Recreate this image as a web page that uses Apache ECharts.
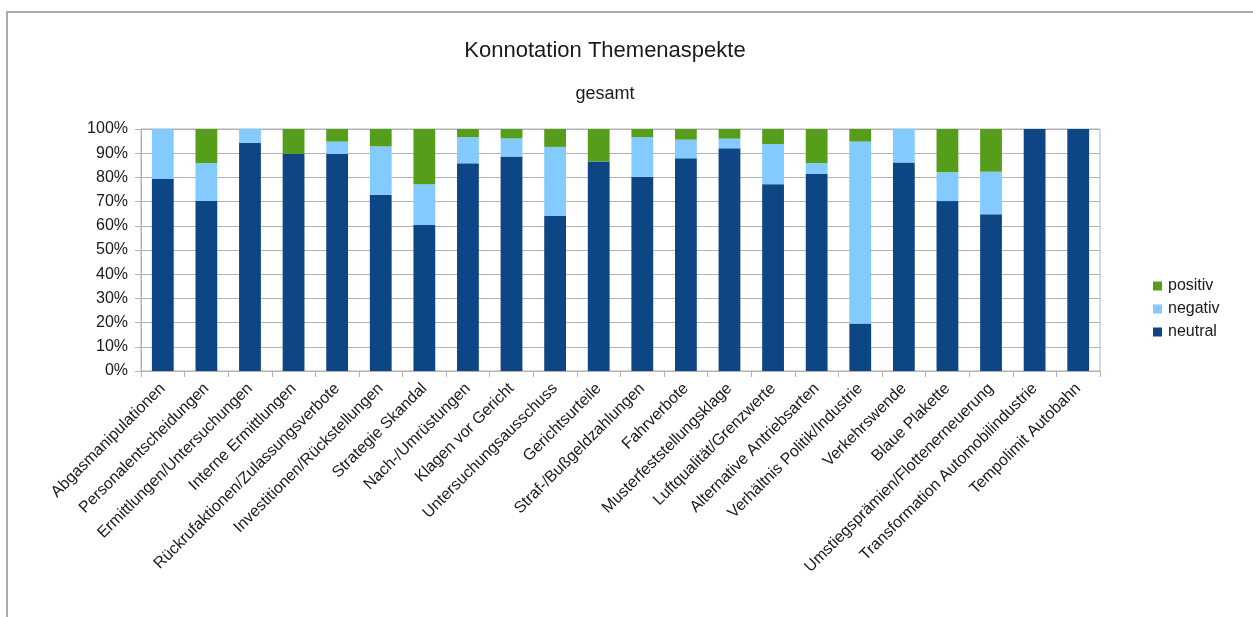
<!DOCTYPE html>
<html lang="de">
<head>
<meta charset="utf-8">
<title>Konnotation Themenaspekte</title>
<script src="https://cdn.jsdelivr.net/npm/echarts@6/dist/echarts.min.js"></script>
<style>
  html, body { margin: 0; padding: 0; background: #fff; }
  #chart { width: 1253px; height: 617px; }
</style>
</head>
<body>
<div id="chart"></div>
<script>
// Themenaspekte (x-axis categories)
const categories = [
  'Abgasmanipulationen',
  'Personalentscheidungen',
  'Ermittlungen/Untersuchungen',
  'Interne Ermittlungen',
  'Rückrufaktionen/Zulassungsverbote',
  'Investitionen/Rückstellungen',
  'Strategie Skandal',
  'Nach-/Umrüstungen',
  'Klagen vor Gericht',
  'Untersuchungsausschuss',
  'Gerichtsurteile',
  'Straf-/Bußgeldzahlungen',
  'Fahrverbote',
  'Musterfeststellungsklage',
  'Luftqualität/Grenzwerte',
  'Alternative Antriebsarten',
  'Verhältnis Politik/Industrie',
  'Verkehrswende',
  'Blaue Plakette',
  'Umstiegsprämien/Flottenerneuerung',
  'Transformation Automobilindustrie',
  'Tempolimit Autobahn'
];

// Anteile in Prozent je Konnotation
const neutral = [79.3, 70.3, 94.3, 89.7, 89.7, 72.8, 60.3, 85.8, 88.6, 64.0, 86.6,
                 80.3, 87.9, 92.0, 77.2, 81.4, 19.6, 86.2, 70.2, 64.8, 100, 100];
const negativ = [20.7, 15.6, 5.7, 0, 5.1, 20.0, 16.9, 10.8, 7.5, 28.6, 0,
                 16.3, 7.7, 4.0, 16.6, 4.5, 75.2, 13.8, 11.9, 17.5, 0, 0];
const positiv = [0, 14.1, 0, 10.3, 5.2, 7.2, 22.8, 3.4, 3.9, 7.4, 13.4,
                 3.4, 4.4, 4.0, 6.2, 14.1, 5.2, 0, 17.9, 17.7, 0, 0];

// y-axis ticks
const yTicks = [0, 10, 20, 30, 40, 50, 60, 70, 80, 90, 100];

const FONT = '"Liberation Sans", Arial, sans-serif';
const TEXT = '#1a1a1a';
const GRID = '#b3b3b3';

const chart = echarts.init(document.getElementById('chart'), null, { renderer: 'canvas' });

chart.setOption({
  animation: false,
  backgroundColor: '#fff',
  textStyle: { fontFamily: FONT },
  title: [
    {
      text: 'Konnotation Themenaspekte',
      left: 605, top: 40, textAlign: 'center', padding: 0,
      textStyle: { fontFamily: FONT, fontSize: 22, fontWeight: 'normal', color: TEXT }
    },
    {
      text: 'gesamt',
      left: 605, top: 85, textAlign: 'center', padding: 0,
      textStyle: { fontFamily: FONT, fontSize: 18, fontWeight: 'normal', color: TEXT }
    }
  ],
  // frame around the chart
  graphic: [
    { type: 'line', silent: true, shape: { x1: 6, y1: 12, x2: 1253, y2: 12 },
      style: { stroke: '#ababab', lineWidth: 2 } },
    { type: 'line', silent: true, shape: { x1: 7, y1: 11, x2: 7, y2: 617 },
      style: { stroke: '#ababab', lineWidth: 2 } }
  ],
  legend: {
    orient: 'vertical',
    left: 1153, top: 278,
    data: ['positiv', 'negativ', 'neutral'],
    icon: 'rect',
    itemWidth: 9, itemHeight: 9,
    itemGap: 7,
    padding: 0,
    textStyle: { fontFamily: FONT, fontSize: 16, color: TEXT, padding: [0, 0, 0, 1] }
  },
  grid: {
    left: 141, top: 129, width: 959, height: 242,
    show: true, borderColor: GRID, borderWidth: 1, backgroundColor: 'transparent',
    containLabel: false
  },
  xAxis: {
    type: 'category',
    data: categories,
    boundaryGap: true,
    axisLine: { show: true, lineStyle: { color: GRID, width: 1 } },
    axisTick: { show: true, length: 6, alignWithLabel: false, lineStyle: { color: GRID } },
    splitLine: { show: false },
    axisLabel: {
      interval: 0, rotate: 45, margin: 15,
      fontFamily: FONT, fontSize: 16, color: TEXT
    }
  },
  yAxis: {
    type: 'value',
    min: yTicks[0], max: yTicks[yTicks.length - 1], interval: 10,
    axisLine: { show: true, lineStyle: { color: GRID, width: 1 } },
    axisTick: { show: true, length: 6, lineStyle: { color: GRID } },
    splitLine: { show: true, lineStyle: { color: GRID, width: 1 } },
    axisLabel: {
      margin: 13, fontFamily: FONT, fontSize: 16, color: TEXT,
      formatter: v => v + '%'
    }
  },
  series: [
    { name: 'neutral', type: 'bar', stack: 'gesamt', data: neutral, barWidth: '50%',
      itemStyle: { color: '#0d4585' } },
    { name: 'negativ', type: 'bar', stack: 'gesamt', data: negativ, barWidth: '50%',
      itemStyle: { color: '#83caff' } },
    { name: 'positiv', type: 'bar', stack: 'gesamt', data: positiv, barWidth: '50%',
      itemStyle: { color: '#579d1c' } }
  ]
});
</script>
</body>
</html>
